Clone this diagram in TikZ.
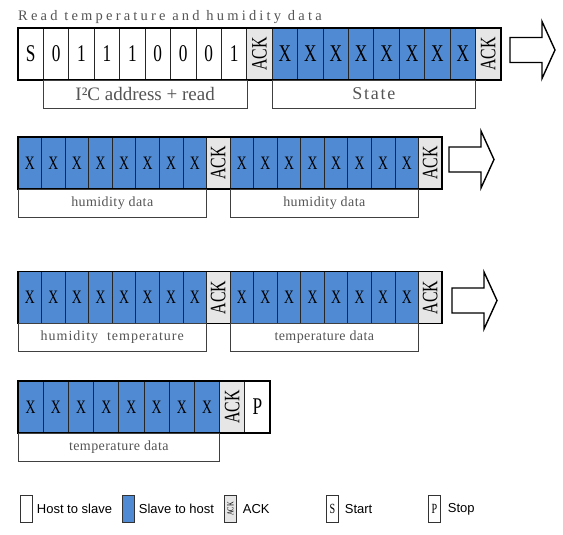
\documentclass[tikz,border=0pt]{standalone}
\usepackage{fontspec}
\usepackage{graphicx}
\setmainfont{Liberation Serif}
\newfontfamily\cellfont[FakeStretch=0.72]{Liberation Serif}
\newfontfamily\labelfont[LetterSpace=3]{Liberation Serif}
\newfontfamily\widelabelfont[LetterSpace=7]{Liberation Serif}
\newfontfamily\statefont[LetterSpace=10]{Liberation Serif}
\newfontfamily\titlefont[LetterSpace=22]{Liberation Serif}
\newfontfamily\keyfont{Liberation Sans}
\usetikzlibrary{positioning}
\definecolor{slaveblue}{RGB}{80,138,210}
\definecolor{ackgray}{RGB}{230,230,230}
\definecolor{labelgray}{RGB}{85,85,85}
\tikzset{
    raw cell/.style={rectangle, draw=black!85, line width=0.8pt, inner sep=0pt, outer sep=0pt, anchor=north west, minimum height=52pt},
    host/.style={raw cell, fill=white},
    slave/.style={raw cell, fill=slaveblue},
    ack/.style={raw cell, fill=ackgray},
    big bit/.style={font=\cellfont\fontsize{24}{24}\selectfont},
    small bit/.style={font=\cellfont\fontsize{19}{19}\selectfont},
    ack text/.style={font=\cellfont\fontsize{22}{22}\selectfont},
    field/.style={rectangle, draw=black!75, line width=0.6pt, fill=white, inner sep=0pt, outer sep=0pt, anchor=north west, minimum height=28pt, text=labelgray},
    small field/.style={field, font=\labelfont\fontsize{14}{14}\selectfont},
    row frame/.style={draw=black, line width=1.8pt},
    key box/.style={rectangle, draw=black!80, line width=0.7pt, minimum width=12pt, minimum height=27pt, inner sep=0pt, anchor=north west},
    key text/.style={font=\keyfont\fontsize{13}{13}\selectfont, inner sep=0pt, anchor=west},
    blockarrow/.pic={\draw[line width=1.4pt, fill=white] (0,-12.5) -- (32,-12.5) -- (32,-28.5) -- (45,0) -- (32,28.5) -- (32,12.5) -- (0,12.5) -- cycle;}
}
\begin{document}
\begin{tikzpicture}[x=1pt, y=-1pt]
    \useasboundingbox (0,0) rectangle (563,535);
    \node[anchor=base west, inner sep=0pt, text=labelgray, font=\titlefont\fontsize{14.5}{14.5}\selectfont] (title) at (18,20.5) {Read temperature and humidity data};

    % address + state
    \foreach \t [count=\i from 0] in {S,0,1,1,1,0,0,0,1}
        \node[host, big bit, minimum width=25.42pt] (a\i) at (18+25.42*\i,28) {\t};
    \node[ack, ack text, minimum width=25.42pt] (a9) at (18+25.42*9,28) {\rotatebox{90}{ACK}};
    \foreach \i in {10,...,17}
        \node[slave, big bit, minimum width=25.42pt] (a\i) at (18+25.42*\i,28) {X};
    \node[ack, ack text, minimum width=25.42pt] (a18) at (18+25.42*18,28) {\rotatebox{90}{ACK}};
    \draw[row frame] (a0.north west) rectangle (a18.south east);
    \node[field, minimum width=203.4pt, font=\fontsize{19}{19}\selectfont] (addr) at (a1.south west) {I²C address + read};
    \node[field, minimum width=203.4pt, font=\statefont\fontsize{18}{18}\selectfont] (state) at (a10.south west) {State};

    % humidity / temperature bytes
    \foreach \r/\y in {b/137,c/271.5} {
        \foreach \i in {0,...,7}
            \node[slave, small bit, minimum width=23.56pt] (\r\i) at (18+23.56*\i,\y) {X};
        \node[ack, ack text, minimum width=23.56pt] (\r8) at (18+23.56*8,\y) {\rotatebox{90}{ACK}};
        \foreach \i in {9,...,16}
            \node[slave, small bit, minimum width=23.56pt] (\r\i) at (18+23.56*\i,\y) {X};
        \node[ack, ack text, minimum width=23.56pt] (\r17) at (18+23.56*17,\y) {\rotatebox{90}{ACK}};
        \draw[row frame] (\r0.north west) rectangle (\r17.south east);
    }
    \node[small field, minimum width=188.5pt] (hum1) at (b0.south west) {humidity data};
    \node[small field, minimum width=188.5pt] (hum2) at (b9.south west) {humidity data};
    \node[small field, minimum width=188.5pt, font=\widelabelfont\fontsize{14}{14}\selectfont] (humtemp) at (c0.south west) {humidity\ \ temperature};
    \node[small field, minimum width=188.5pt] (temp1) at (c9.south west) {temperature data};

    % last byte + stop
    \foreach \i in {0,...,7}
        \node[slave, small bit, minimum width=25.2pt] (d\i) at (18+25.2*\i,381) {X};
    \node[ack, ack text, minimum width=25.2pt] (d8) at (18+25.2*8,381) {\rotatebox{90}{ACK}};
    \node[host, big bit, minimum width=25.2pt] (d9) at (18+25.2*9,381) {P};
    \draw[row frame] (d0.north west) rectangle (d9.south east);
    \node[small field, minimum width=201.6pt] (temp2) at (d0.south west) {temperature data};

    \pic (go1) at (510,50) {blockarrow};
    \pic (go2) at (449,159.5) {blockarrow};
    \pic (go3) at (452,300.5) {blockarrow};

    % legend
    \node[key box, fill=white] (k1) at (20,495) {};
    \node[key text, right=4pt of k1] (t1) {Host to slave};
    \node[key box, fill=slaveblue] (k2) at (122,495) {};
    \node[key text, right=4pt of k2] (t2) {Slave to host};
    \node[key box, fill=ackgray, font=\cellfont\fontsize{9}{9}\selectfont] (k3) at (224,495) {\rotatebox{90}{ACK}};
    \node[key text, right=6pt of k3] (t3) {ACK};
    \node[key box, fill=white, font=\cellfont\fontsize{14}{14}\selectfont] (k4) at (326,495) {S};
    \node[key text, right=6pt of k4] (t4) {Start};
    \node[key box, fill=white, font=\cellfont\fontsize{14}{14}\selectfont] (k5) at (428,495) {P};
    \node[key text, right=7pt of k5] (t5) {Stop};
\end{tikzpicture}
\end{document}
